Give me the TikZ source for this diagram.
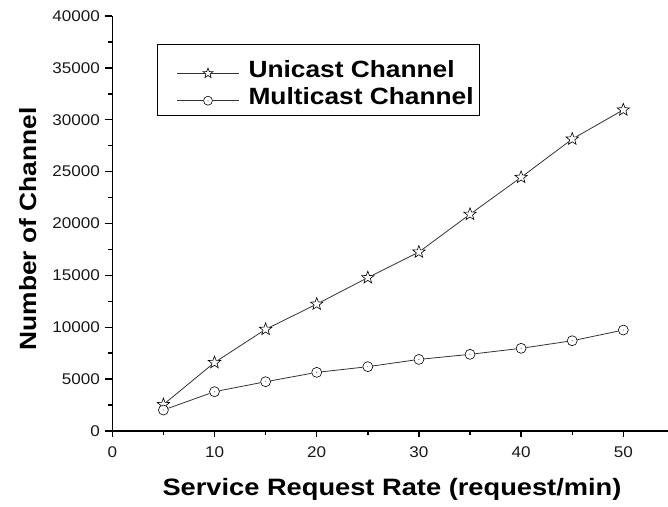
\documentclass[tikz,border=0pt]{standalone}
\usepackage{fontspec}
\setmainfont{Liberation Sans}
\newfontfamily\tickfont[FakeStretch=1.1]{Liberation Sans}
\newfontfamily\labfont[FakeStretch=1.12]{Liberation Sans}
\newfontfamily\xlabfont[FakeStretch=1.15]{Liberation Sans}
\usetikzlibrary{shapes.geometric}
\begin{document}
\begin{tikzpicture}[x=1pt,y=1pt,
  axisline/.style={line width=1.6pt, black},
  majtick/.style={line width=1.4pt, black},
  dataline/.style={line width=0.8pt, black!80},
  starmark/.style={star, star points=5, star point ratio=2.4, minimum size=13pt, inner sep=0pt, draw=black, line width=0.6pt, fill=white},
  circmark/.style={circle, minimum size=10pt, inner sep=0pt, draw=black, line width=0.6pt, fill=white},
  ticklab/.style={font=\tickfont\fontsize{15.5}{18}\selectfont, inner sep=0pt, text=black!90},
  labtext/.style={font=\labfont\bfseries\fontsize{23.5}{28}\selectfont, inner sep=0pt},
  xlabtext/.style={font=\xlabfont\bfseries\fontsize{23.7}{28}\selectfont, inner sep=0pt},
  ylabtext/.style={font=\labfont\bfseries\fontsize{23.5}{28}\selectfont, inner sep=0pt}
]
\useasboundingbox (0,0) rectangle (668,506);
% axes
\coordinate (O) at (112.3,75);
\coordinate (Ytop) at (112.3,490);
\coordinate (Xend) at (668,75);
\draw[axisline] (Ytop) -- (O) -- (Xend);
% y ticks (values in thousands)
\foreach \k/\lab in {0/0,5/5000,10/10000,15/15000,20/20000,25/25000,30/30000,35/35000,40/40000} {
  \draw[majtick] (112.3,{75+10.375*\k}) -- ++(-7,0);
  \node[ticklab, anchor=east] (yl\k) at (100,{75+10.375*\k}) {\lab};
}
\foreach \k in {2.5,7.5,...,37.5} {
  \draw[majtick] (112.3,{75+10.375*\k}) -- ++(-4,0);
}
% x ticks
\foreach \x in {0,10,...,50} {
  \draw[majtick] ({112.3+10.22*\x},75) -- ++(0,-6);
  \node[ticklab] (xl\x) at ({112.3+10.22*\x},54) {\x};
}
\foreach \x in {5,15,...,45} {
  \draw[majtick] ({112.3+10.22*\x},75) -- ++(0,-3.5);
}
% axis labels
\node[xlabtext, anchor=base] (xlabel) at (392,11) {Service Request Rate (request/min)};
\node[ylabtext, rotate=90, anchor=base] (ylabel) at (36,277) {Number of Channel};
% data (values in thousands)
\foreach \x/\v [count=\i] in {5/2.55,10/6.6,15/9.8,20/12.23,25/14.78,30/17.25,35/20.89,40/24.45,45/28.14,50/30.95} {
  \node[starmark] (u\i) at ({112.3+10.22*\x},{75+10.375*\v}) {};
}
\foreach \x/\v [count=\i] in {5/2.02,10/3.79,15/4.75,20/5.65,25/6.2,30/6.9,35/7.39,40/7.97,45/8.7,50/9.73} {
  \node[circmark] (m\i) at ({112.3+10.22*\x},{75+10.375*\v}) {};
  \fill[black!60] (m\i.center) circle (0.6);
}
\foreach \i in {1,...,9} {
  \pgfmathtruncatemacro\j{\i+1}
  \draw[dataline] (u\i) -- (u\j);
  \draw[dataline] (m\i) -- (m\j);
}
% legend
\node[draw, line width=0.8pt, minimum width=322pt, minimum height=71pt, anchor=south west, inner sep=0pt] (legend) at (157.3,390) {};
\coordinate (lua) at (177,432.7);
\coordinate (lub) at (239,432.7);
\node[starmark, minimum size=10.5pt] (lu) at (208,432.7) {};
\draw[dataline] (lua) -- (lu);
\draw[dataline] (lu) -- (lub);
\coordinate (lma) at (177,405.3);
\coordinate (lmb) at (239,405.3);
\node[circmark, minimum size=9pt] (lm) at (208,405.3) {};
\fill[black!60] (lm.center) circle (0.6);
\draw[dataline] (lma) -- (lm);
\draw[dataline] (lm) -- (lmb);
\node[labtext, anchor=base west] (tu) at (248.3,428.3) {Unicast Channel};
\node[labtext, anchor=base west] (tm) at (248.3,401) {Multicast Channel};
\end{tikzpicture}
\end{document}
